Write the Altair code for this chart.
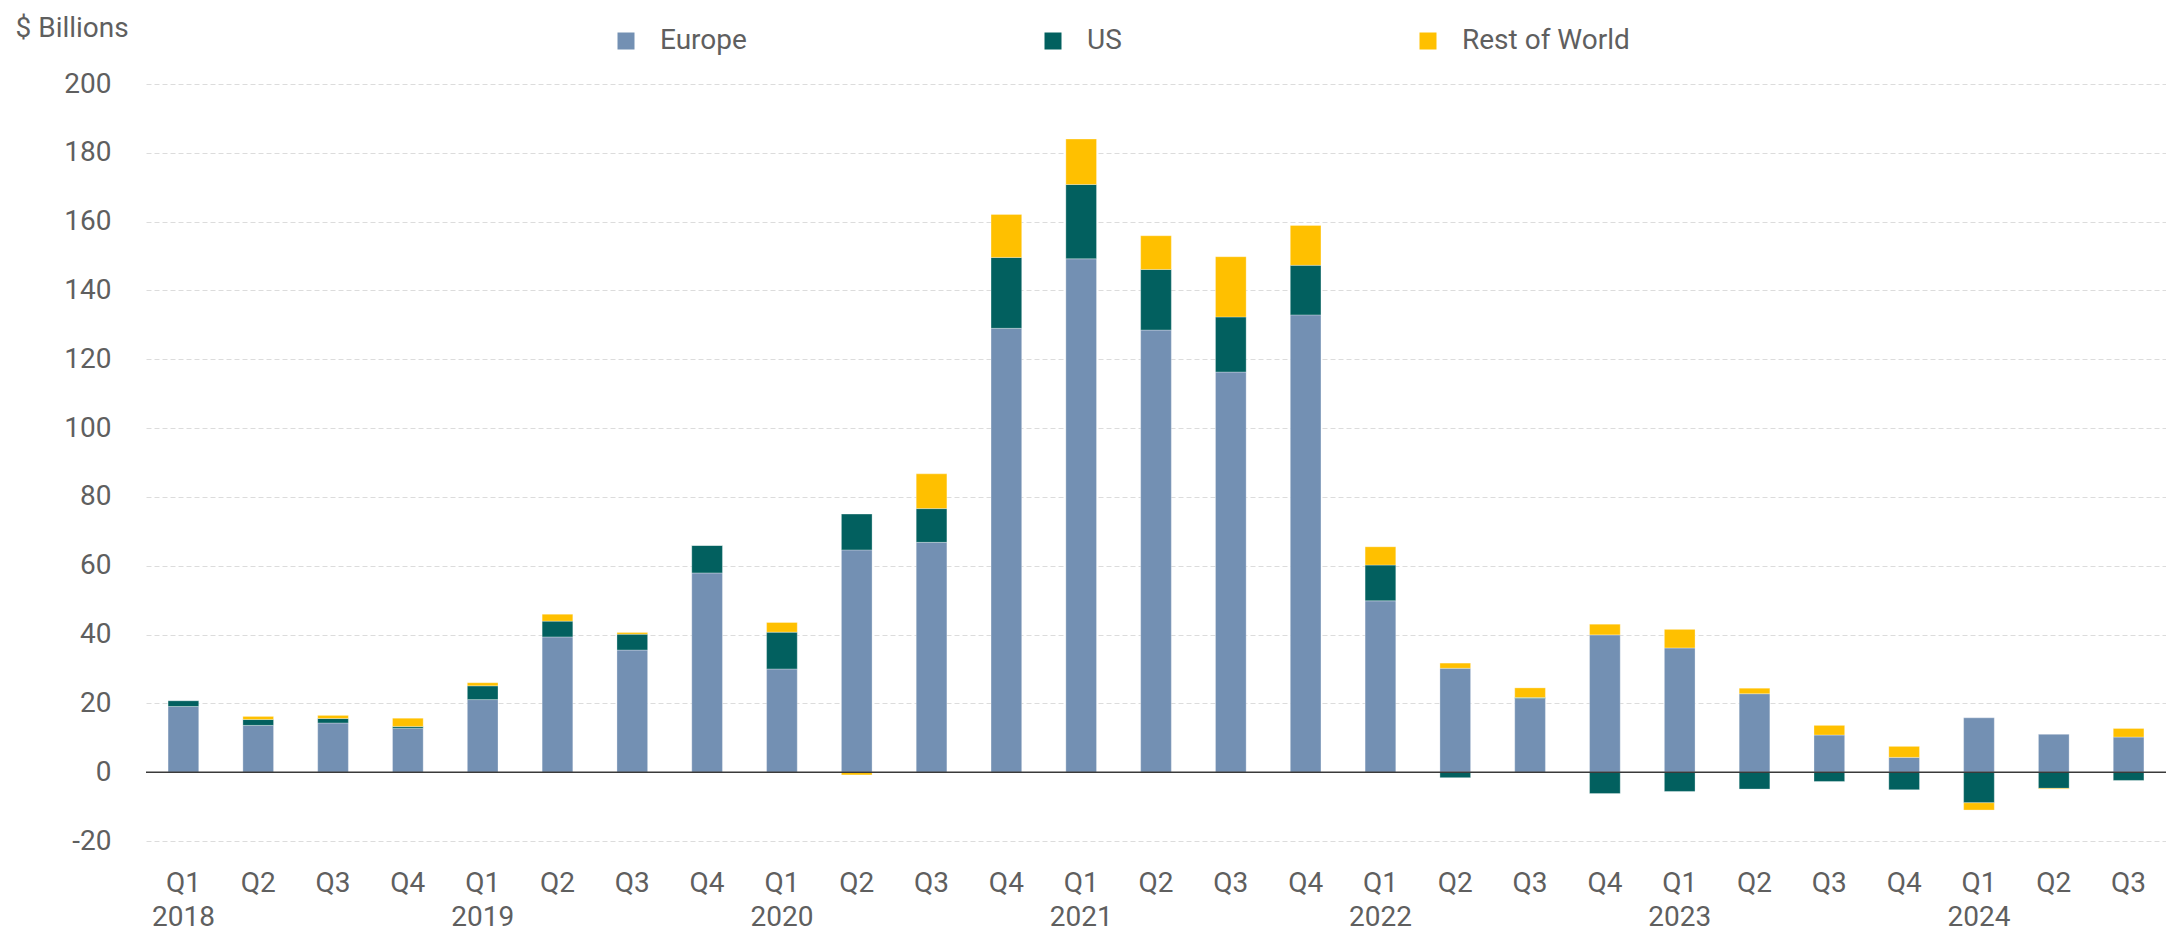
import altair as alt
import pandas as pd

periods = [
    "Q1 2018", "Q2 2018", "Q3 2018", "Q4 2018",
    "Q1 2019", "Q2 2019", "Q3 2019", "Q4 2019",
    "Q1 2020", "Q2 2020", "Q3 2020", "Q4 2020",
    "Q1 2021", "Q2 2021", "Q3 2021", "Q4 2021",
    "Q1 2022", "Q2 2022", "Q3 2022", "Q4 2022",
    "Q1 2023", "Q2 2023", "Q3 2023", "Q4 2023",
    "Q1 2024", "Q2 2024", "Q3 2024",
]
europe = [19.1, 13.6, 14.3, 12.8, 21.1, 39.3, 35.5, 57.9, 30.0, 64.6, 66.8, 129.0,
          149.2, 128.5, 116.3, 132.9, 49.8, 30.2, 21.4, 39.9, 36.1, 22.8, 10.8, 4.3,
          15.8, 11.0, 10.2]
us = [1.7, 1.7, 1.3, 0.5, 4.0, 4.6, 4.6, 8.0, 10.7, 10.4, 9.8, 20.6,
      21.6, 17.6, 16.0, 14.4, 10.4, -1.6, 0.3, -6.2, -5.6, -4.9, -2.7, -5.1,
      -8.9, -4.7, -2.4]
rest_of_world = [0.0, 0.9, 0.9, 2.4, 0.9, 2.0, 0.5, 0.0, 2.8, -0.8, 10.1, 12.5,
                 13.2, 9.8, 17.5, 11.6, 5.3, 1.5, 2.8, 3.1, 5.4, 1.6, 2.8, 3.2,
                 -2.1, -0.2, 2.5]
regions = ["Europe", "US", "Rest of World"]
colors = ["#7390B3", "#02605F", "#FFC000"]
y_ticks = [-20, 0, 20, 40, 60, 80, 100, 120, 140, 160, 180, 200]

rows = []
for i, p in enumerate(periods):
    for k, vals in enumerate([europe, us, rest_of_world]):
        rows.append({"period": p, "region": regions[k], "value": vals[i], "ord": k})
df = pd.DataFrame(rows)

FONT = "Roboto"
TXT = "#5f5f5f"
FS = 28

bars = alt.Chart(df).mark_bar(stroke="white", strokeWidth=0.6, strokeOpacity=0.5).encode(
    x=alt.X("period:N", sort=periods,
            scale=alt.Scale(paddingInner=0.59, paddingOuter=0.295),
            axis=alt.Axis(title=None, labelAngle=0, ticks=False, domain=False,
                          labelBaseline="alphabetic", labelPadding=50, labelLineHeight=34,
                          labelExpr="slice(datum.value,0,2)=='Q1' ? split(datum.value,' ') : slice(datum.value,0,2)")),
    y=alt.Y("value:Q", stack="zero",
            scale=alt.Scale(domain=[-20, 200], nice=False),
            axis=alt.Axis(values=y_ticks, title="$ Billions", titleAngle=0, titleAlign="left",
                          titleBaseline="top", titleX=-131, titleY=-70,
                          titleFontWeight="normal", ticks=False, domain=False,
                          labelExpr="'' + datum.value",
                          labelPadding=35, grid=True, gridDash=[5, 3],
                          gridColor="#dcdcdc", gridWidth=1)),
    color=alt.Color("region:N", sort=regions,
                    scale=alt.Scale(domain=regions, range=colors),
                    legend=alt.Legend(title=None, orient="none", direction="horizontal",
                                      legendX=466, legendY=-57, symbolType="square",
                                      symbolSize=289, symbolStrokeWidth=0,
                                      columnPadding=292, labelOffset=20, padding=0,
                                      labelLimit=0)),
    order=alt.Order("ord:Q"),
)

zero = alt.Chart(pd.DataFrame({"y": [0]})).mark_rule(color="#3a3a3a", strokeWidth=1.6).encode(
    y="y:Q"
)

chart = alt.layer(bars, zero).properties(
    width=2020, height=757,
    autosize="none",
    padding={"left": 138, "top": 76, "right": 0, "bottom": 90},
).configure_view(stroke=None).configure_axis(
    labelFont=FONT, labelFontSize=FS, labelColor=TXT,
    titleFont=FONT, titleFontSize=FS, titleColor=TXT,
).configure_legend(
    labelFont=FONT, labelFontSize=FS, labelColor=TXT,
)

chart.save("out.html", embed_options={"renderer": "svg", "actions": False})
